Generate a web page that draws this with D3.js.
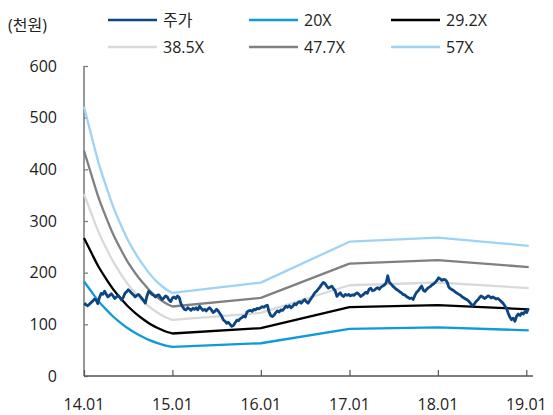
<!DOCTYPE html>
<html><head><meta charset="utf-8">
<script src="https://cdn.jsdelivr.net/npm/d3@7"></script>
<style>
html,body{margin:0;padding:0;background:#fff;}
text{font-family:"Open Sans","Noto Sans CJK KR",sans-serif;fill:#222;}
</style></head><body>
<svg id="chart" width="553" height="415"></svg>
<script>
// ---- data ----
const bandDates = ["2014-01-01","2014-02-01","2014-03-01","2014-04-01","2014-05-01","2014-06-01","2014-07-01","2014-08-01","2014-09-01","2014-10-01","2014-11-01","2014-12-01","2015-01-01","2016-01-01","2017-01-01","2018-01-01","2019-01-11"];
const band20   = [182.8,163.0,145.4,129.4,115.2,103.0,92.4,83.4,75.6,69.0,63.6,59.4,56.4,63.4,91.2,94.0,88.4];
const band292  = [266.9,238.0,212.3,188.9,168.2,150.4,134.9,121.8,110.4,100.7,92.9,86.7,82.3,92.6,133.2,137.2,129.1];
const band385  = [351.9,313.8,279.9,249.1,221.8,198.3,177.9,160.5,145.5,132.8,122.4,114.3,108.6,122.0,175.6,181.0,170.2];
const band477  = [436.0,388.8,346.8,308.6,274.8,245.7,220.4,198.9,180.3,164.6,151.7,141.7,134.5,151.2,217.5,224.2,210.8];
const band57   = [521.0,464.6,414.4,368.8,328.3,293.6,263.3,237.7,215.5,196.7,181.3,169.3,160.7,180.7,259.9,267.9,251.9];
// weekly stock price (천원), starting 2014-01-02
const priceStart = "2014-01-02";
const priceStepDays = 7;
const price = [141,138,136,139,142,145,149,147,140,152,160,158,164,158,153,156,159,155,150,153,
156,152,147,152,160,163,167,164,160,157,153,156,158,154,150,146,141,155,164,161,
158,156,153,156,157,152,148,151,155,153,147,144,151,153,150,155,152,140,134,129,
128,132,130,127,131,129,132,128,135,131,127,129,126,130,132,128,123,125,129,126,
121,116,109,106,102,104,100,96,98,103,108,107,111,113,116,114,124,126,127,125,
129,128,131,130,132,134,133,136,137,124,117,115,118,123,126,124,128,127,131,135,
133,136,132,135,140,138,142,144,141,145,148,144,141,146,151,156,161,164,168,172,
177,181,179,174,170,172,174,169,165,154,158,161,156,154,158,156,158,155,157,156,
159,161,158,154,156,159,162,160,168,170,165,166,169,171,168,172,174,176,180,194,
181,178,174,171,168,166,163,161,158,157,154,152,150,151,148,156,162,165,170,174,
166,164,168,171,173,176,178,181,185,190,188,185,187,186,182,172,169,167,165,162,
160,158,156,153,151,149,147,144,140,136,139,144,147,151,155,153,150,152,155,154,
151,153,151,149,150,147,144,141,136,131,122,114,109,112,106,116,120,117,122,120,
125,123,131];
const yTicks = [0,100,200,300,400,500,600];
const xTickDates = ["2014-01-01","2015-01-01","2016-01-01","2017-01-01","2018-01-01","2019-01-01"];
const xTickLabels = ["14.01","15.01","16.01","17.01","18.01","19.01"];
const seriesNames = ["주가","20X","29.2X","38.5X","47.7X","57X"];
const seriesColors = ["#0b4583","#0f9ad8","#000000","#d9d9d9","#808080","#9fd2f6"];

// ---- chart ----
const svg = d3.select("#chart");
const parse = d3.timeParse("%Y-%m-%d");
const x = d3.scaleTime().domain([parse("2014-01-01"), parse("2019-01-01")]).range([84, 526.3]);
const y = d3.scaleLinear().domain([0, 600]).range([376, 66]);

// y axis
const yAxis = svg.append("g").attr("transform","translate(84,0)")
  .call(d3.axisRight(y).tickValues(yTicks).tickSize(4).tickFormat(""));
yAxis.select(".domain").remove();
yAxis.selectAll(".tick line").attr("stroke","#7f7f7f").attr("stroke-width",1.3);
svg.append("line").attr("x1",84).attr("x2",84).attr("y1",y(600)).attr("y2",y(0))
  .attr("stroke","#7f7f7f").attr("stroke-width",1.6);
svg.selectAll(".ylab").data(yTicks).enter().append("text")
  .attr("x",57).attr("y",d=>y(d)).attr("dy","0.36em").attr("text-anchor","end")
  .style("font-size","16px").text(d=>d);

// x axis
const xAxis = svg.append("g").attr("transform","translate(0,376)")
  .call(d3.axisTop(x).tickValues(xTickDates.map(parse)).tickSize(6).tickFormat(""));
xAxis.select(".domain").remove();
xAxis.selectAll(".tick line").attr("stroke","#555").attr("stroke-width",1.2);
svg.append("line").attr("x1",84).attr("x2",533).attr("y1",376).attr("y2",376)
  .attr("stroke","#555").attr("stroke-width",1.6);
svg.selectAll(".xlab").data(xTickDates).enter().append("text")
  .attr("x",d=>x(parse(d))).attr("y",410).attr("text-anchor","middle")
  .style("font-size","16px").text((d,i)=>xTickLabels[i]);

// unit label
svg.append("text").attr("x",8).attr("y",31).style("font-size","16px").text("(천원)");

// bands: smooth curve through first year, straight segments afterwards
const bands = [band20, band292, band385, band477, band57];
const smoothLine = d3.line().x(d=>x(d.date)).y(d=>y(d.v)).curve(d3.curveMonotoneX);
const straightLine = d3.line().x(d=>x(d.date)).y(d=>y(d.v));
const bandOrder = [4,3,2,1,0];
bandOrder.forEach(k=>{
  const data = bandDates.map((d,i)=>({date:parse(d), v:bands[k][i]}));
  const dFirst = smoothLine(data.slice(0,13));
  const dRest = straightLine(data.slice(12)).replace(/^M/,"L");
  svg.append("path").attr("d",dFirst+dRest).attr("fill","none")
    .attr("stroke",seriesColors[k+1]).attr("stroke-width",2.3).attr("stroke-linejoin","round");
});

// price
const p0 = parse(priceStart);
const priceData = price.map((v,i)=>({date:d3.timeDay.offset(p0, i*priceStepDays), v}));
svg.append("path").datum(priceData)
  .attr("d", d3.line().x(d=>x(d.date)).y(d=>y(d.v)))
  .attr("fill","none").attr("stroke",seriesColors[0]).attr("stroke-width",2.8)
  .attr("stroke-linejoin","round");

// legend
const legX = [108,249,391], legY = [20,47];
seriesNames.forEach((n,i)=>{
  const cx = legX[i%3], cy = legY[Math.floor(i/3)];
  svg.append("line").attr("x1",cx).attr("x2",cx+49).attr("y1",cy).attr("y2",cy)
    .attr("stroke",seriesColors[i]).attr("stroke-width",2.6);
  svg.append("text").attr("x",cx+55).attr("y",cy).attr("dy","0.36em")
    .style("font-size","16px").text(n);
});
</script>
</body></html>
